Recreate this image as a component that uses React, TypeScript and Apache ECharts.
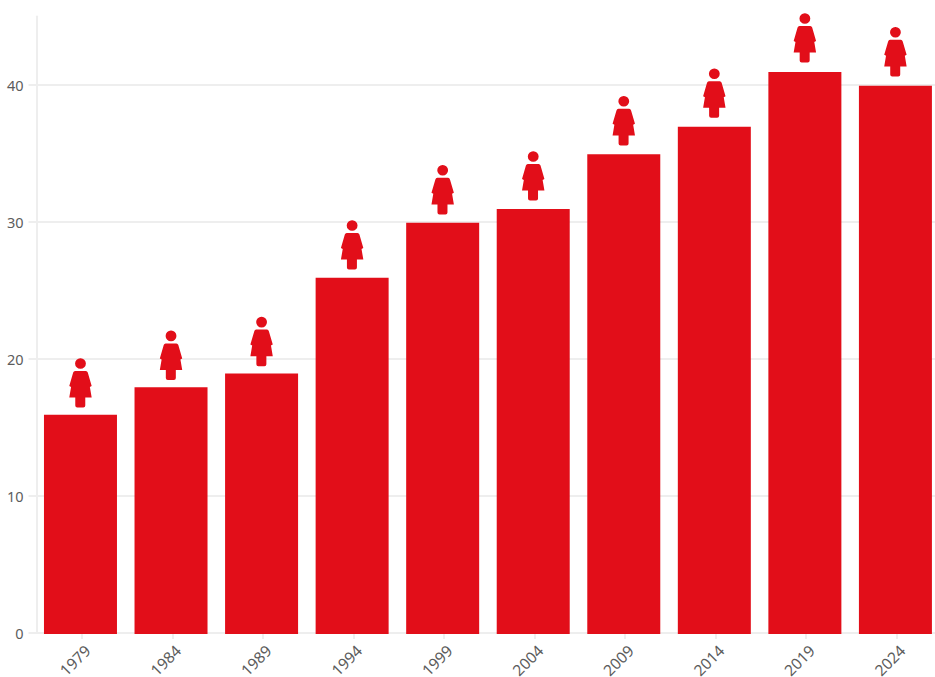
import React, { useEffect, useRef } from "react";
import * as echarts from "echarts";

const years = ["1979", "1984", "1989", "1994", "1999", "2004", "2009", "2014", "2019", "2024"];
const values = [16, 18, 19, 26, 30, 31, 35, 37, 41, 40];
const yTicks = [0, 10, 20, 30, 40];

const RED = "#e20e19";
const GRID = "#eeeeee";
const TEXT = "#5c5c5c";
const WOMAN =
  "path://M11.2,0A5.3,5.3,0,1,1,11.2,10.6A5.3,5.3,0,1,1,11.2,0Z" +
  "M5.8,12.8L16.6,12.8Q18,12.8,18.5,14.4L22.4,27.8L20.6,28.8L22.4,39.4L16,39.4L16,47.4Q16,49.4,14,49.4L8,49.4Q6,49.4,6,47.4L6,39.4L0,39.4L1.8,28.8L0,27.8L3.9,14.4Q4.4,12.8,5.8,12.8Z";

export default function App() {
  const ref = useRef<HTMLDivElement>(null);
  useEffect(() => {
    document.body.style.margin = "0";
    document.body.style.overflow = "hidden";
    const chart = echarts.init(ref.current!, undefined, { renderer: "svg" });
    const hiddenX = { type: "category", data: years, show: false };
    const hiddenY = { type: "value", min: 0, max: 45, show: false };
    chart.setOption({
      animation: false,
      backgroundColor: "#ffffff",
      textStyle: { fontFamily: "Noto Sans" },
      grid: [
        // visible axes
        { left: 36.5, top: 16.5, width: 905.5, height: 616.5, outerBoundsMode: "none" },
        // bars sit 1px down and left of the axes
        { left: 35.2, top: 17.2, width: 905.5, height: 616.8, outerBoundsMode: "none" },
        // the icons follow a slightly larger vertical scale
        { left: 35.2, top: -17.3, width: 905.5, height: 621, outerBoundsMode: "none" },
      ],
      xAxis: [
        {
          type: "category",
          data: years,
          gridIndex: 0,
          axisLine: { lineStyle: { color: GRID, width: 2 } },
          axisTick: { show: true, alignWithLabel: true, length: 6, lineStyle: { color: GRID, width: 2 } },
          axisLabel: { rotate: 45, color: TEXT, fontSize: 15.5, margin: 9, interval: 0, verticalAlign: "top" },
        },
        { ...hiddenX, gridIndex: 1 },
        { ...hiddenX, gridIndex: 2 },
      ],
      yAxis: [
        {
          type: "value",
          gridIndex: 0,
          min: 0,
          max: 45,
          interval: 10,
          axisLine: { show: true, lineStyle: { color: GRID, width: 2 } },
          axisTick: { show: true, length: 8, customValues: yTicks, lineStyle: { color: GRID, width: 2 } },
          axisLabel: { color: TEXT, fontSize: 14.5, margin: 13, customValues: yTicks },
          splitLine: { show: true, lineStyle: { color: GRID, width: 2 } },
        },
        { ...hiddenY, gridIndex: 1 },
        { ...hiddenY, gridIndex: 2 },
      ],
      series: [
        {
          type: "bar",
          data: values,
          xAxisIndex: 1,
          yAxisIndex: 1,
          barWidth: 73,
          itemStyle: { color: RED },
          z: 3,
        },
        {
          type: "scatter",
          data: values,
          xAxisIndex: 2,
          yAxisIndex: 2,
          symbol: WOMAN,
          symbolSize: [22.4, 49.4],
          itemStyle: { color: RED, opacity: 1 },
          clip: false,
          z: 4,
        },
      ],
    });
    return () => chart.dispose();
  }, []);
  return (
    <div style={{ width: 935, height: 677, overflow: "hidden" }}>
      <div ref={ref} style={{ width: 945, height: 677 }} />
    </div>
  );
}
